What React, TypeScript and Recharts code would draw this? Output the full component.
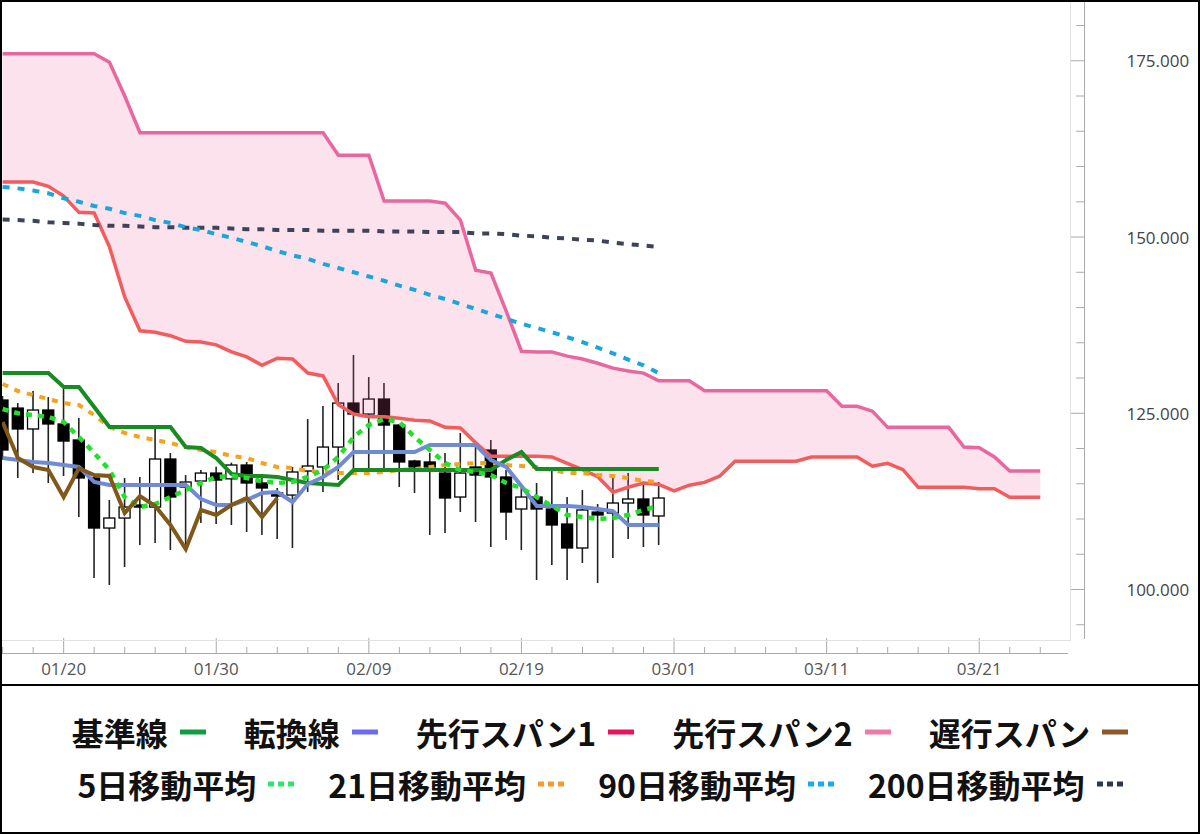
import React from 'react';
import { ComposedChart, Bar, Line, Area, XAxis, YAxis } from 'recharts';

// ---- categories (one per day) ----
const dates = [
  '01/16','01/17','01/18','01/19','01/20','01/21','01/22','01/23','01/24','01/25','01/26','01/27','01/28','01/29','01/30','01/31',
  '02/01','02/02','02/03','02/04','02/05','02/06','02/07','02/08','02/09','02/10','02/11','02/12','02/13','02/14','02/15','02/16',
  '02/17','02/18','02/19','02/20','02/21','02/22','02/23','02/24','02/25','02/26','02/27','02/28',
  '03/01','03/02','03/03','03/04','03/05','03/06','03/07','03/08','03/09','03/10','03/11','03/12','03/13','03/14','03/15','03/16',
  '03/17','03/18','03/19','03/20','03/21','03/22','03/23','03/24','03/25','03/26',
];
const xTickLabels = ['01/20', '01/30', '02/09', '02/19', '03/01', '03/11', '03/21'];
const yTicks = [95, 100, 105, 110, 115, 120, 125, 130, 135, 140, 145, 150, 155, 160, 165, 170, 175, 180];
const yLabels = [100, 125, 150, 175];

// ---- candles (01/16 .. 02/28) ----
const opens = [126.88,125.74,122.77,125.46,123.48,121.21,115.82,108.72,110.14,111.99,111.70,118.51,114.54,115.39,116.52,115.70,117.66,115.11,113.69,113.40,116.81,117.38,120.21,126.45,124.89,127.02,123.33,118.23,118.09,116.52,113.12,117.38,119.79,115.96,111.42,113.12,111.42,109.29,105.89,110.99,110.85,112.27,112.84,110.43];
const highs = [127.45,126.45,128.16,127.30,128.44,124.33,116.30,112.70,115.82,115.96,122.77,119.36,116.24,116.95,117.40,118.00,118.09,115.82,114.40,117.38,124.18,126.03,129.29,133.26,130.14,129.29,123.50,118.40,119.36,119.36,122.20,120.92,121.21,116.95,114.54,115.11,116.95,113.12,114.11,112.13,115.82,116.52,114.82,115.25];
const lows = [118.37,115.82,116.52,115.11,116.10,110.28,101.63,100.64,103.19,106.31,106.60,105.60,105.60,109.43,109.30,109.15,108.16,107.73,107.16,105.89,113.83,113.83,115.53,116.95,116.95,116.95,114.54,113.69,107.73,108.01,110.99,109.57,106.03,107.02,105.60,101.35,103.47,101.35,103.76,100.92,104.47,107.16,106.03,106.31];
const closes = [119.79,122.77,125.46,123.48,121.06,115.82,108.72,110.14,111.70,111.70,118.51,113.12,115.25,116.52,115.53,117.66,115.11,114.40,113.26,116.67,117.52,120.21,126.45,124.89,127.02,123.33,118.09,117.38,117.38,112.98,116.52,116.24,115.96,110.99,113.12,111.42,109.15,105.89,111.28,110.57,112.27,112.84,110.57,112.98];

// ---- ichimoku ----
const kijun = [130.71,130.71,130.71,130.71,128.72,128.72,125.9,123.05,123.05,123.05,123.05,123.05,120.21,120.07,118.65,116.4,116.1,116.1,115.96,115.53,115.11,114.96,114.82,116.95,116.95,116.95,116.95,116.95,116.95,116.95,116.95,116.95,116.95,118.37,119.5,117.09,117.09,117.09,117.09,117.09,117.09,117.09,117.09,117.09];
const tenkan = [118.65,118.37,118.09,117.94,117.66,117.38,115.25,114.82,114.82,114.82,114.82,114.82,114.82,112.84,111.99,111.99,112.70,113.69,113.83,112.41,114.96,115.96,117.38,119.5,119.5,119.5,119.5,119.5,120.5,120.5,120.5,120.5,118.37,117.38,114.68,111.84,111.84,111.84,111.70,111.42,111.13,109.15,109.15,109.15];
const senkou1 = [157.8,157.8,157.8,157.2,155.8,153.5,153.4,148.6,141.5,136.7,136.5,136.0,135.2,135.1,134.7,133.7,133.0,131.8,132.8,132.7,130.7,130.3,126.2,124.9,124.5,124.5,124.3,124.0,123.9,123.0,122.9,120.8,118.9,118.9,118.9,118.9,118.8,117.9,117.0,116.0,113.8,114.5,115.1,114.9,114.0,114.8,115.2,116.1,118.2,118.2,118.2,118.2,118.2,118.8,118.8,118.8,118.8,117.5,117.9,117.0,114.5,114.5,114.5,114.5,114.3,114.3,113.1,113.1,113.1];
const senkou2 = [176.0,176.0,176.0,176.0,176.0,176.0,176.0,174.8,170.0,164.8,164.8,164.8,164.8,164.8,164.8,164.8,164.8,164.8,164.8,164.8,164.8,164.8,161.6,161.6,161.6,155.1,155.1,155.1,155.1,154.8,152.4,145.3,144.9,139.5,133.8,133.7,133.7,133.1,132.7,132.1,131.4,131.0,130.7,129.6,129.6,129.6,128.2,128.2,128.2,128.2,128.2,128.2,128.2,128.2,128.2,126.0,126.0,125.3,123.0,123.0,123.0,123.0,123.0,120.2,120.1,118.8,116.8,116.8,116.8];
const chikou = [123.76,118.65,117.38,116.95,113.12,117.2,116.24,116.10,110.85,113.26,111.84,109.15,105.74,111.28,110.57,111.99,112.98,110.28,112.98];

// ---- moving averages ----
const ma5 = [125.6,125.0,124.75,124.47,123.76,121.63,119.36,116.95,113.12,111.70,112.13,113.12,114.11,115.11,115.96,116.10,115.82,115.39,115.11,115.25,115.96,116.95,118.79,121.63,123.33,124.18,123.76,121.63,119.79,117.94,116.95,116.67,116.24,115.11,114.40,113.12,111.84,110.57,110.28,110.0,110.14,110.57,111.28,111.84];
const ma21 = [129.15,128.16,127.59,127.02,126.45,126.17,124.75,123.05,122.20,121.63,121.21,120.78,120.21,119.79,119.50,118.94,118.65,117.94,117.38,117.23,116.81,116.67,116.52,116.52,116.52,116.67,116.95,117.09,117.38,117.66,117.80,117.94,117.94,117.66,117.52,117.38,116.95,116.52,116.52,116.24,116.10,115.82,115.39,115.25];
const ma90 = [157.1,156.9,156.6,156.2,155.5,155.0,154.4,154.0,153.4,153.0,152.4,152.0,151.4,151.0,150.4,149.9,149.3,148.7,148.0,147.4,146.9,146.2,145.6,145.0,144.4,143.8,143.1,142.5,141.8,141.2,140.5,139.8,139.1,138.4,137.7,137.1,136.5,135.8,135.1,134.3,133.5,132.6,131.8,130.7];
const ma200 = [152.5,152.4,152.3,152.1,152.0,151.9,151.7,151.6,151.6,151.5,151.4,151.4,151.3,151.3,151.3,151.2,151.1,151.1,151.0,151.0,151.0,150.9,150.9,150.9,150.9,150.8,150.8,150.8,150.7,150.7,150.7,150.5,150.5,150.4,150.2,150.1,149.9,149.8,149.6,149.5,149.2,149.0,148.8,148.6];

const legendRow1 = [
  { name: '基準線', color: '#109c40' },
  { name: '転換線', color: '#6b6df0' },
  { name: '先行スパン1', color: '#e8145a' },
  { name: '先行スパン2', color: '#f07aa6' },
  { name: '遅行スパン', color: '#8b5a2b' },
];
const legendRow2 = [
  { name: '5日移動平均', color: '#2ee66e' },
  { name: '21日移動平均', color: '#f59b2d' },
  { name: '90日移動平均', color: '#17aee6' },
  { name: '200日移動平均', color: '#2c3850' },
];

const at = (arr: number[], i: number) => (i < arr.length ? arr[i] : null);

const chartData = dates.map((date, i) => ({
  date,
  open: at(opens, i),
  high: at(highs, i),
  low: at(lows, i),
  close: at(closes, i),
  kijun: at(kijun, i),
  tenkan: at(tenkan, i),
  s1: at(senkou1, i),
  s2: at(senkou2, i),
  chikou: at(chikou, i),
  ma5: at(ma5, i),
  ma21: at(ma21, i),
  ma90: at(ma90, i),
  ma200: at(ma200, i),
}));

const firstLabelIndex = dates.indexOf(xTickLabels[0]);
const axisFont = '"Open Sans", "DejaVu Sans", sans-serif';

const CandleShape = (props: any) => {
  const { x, y, width, height, payload } = props;
  if (!payload || payload.open == null || !isFinite(y) || !isFinite(height)) return null;
  const { open, close, high, low } = payload;
  const top = Math.min(y, y + height);
  const h = Math.abs(height);
  const span = high - low || 1;
  const toY = (v: number) => top + ((high - v) / span) * h;
  const yO = toY(open);
  const yC = toY(close);
  const up = close >= open;
  const bt = Math.min(yO, yC);
  const bb = Math.max(yO, yC);
  const cx = x + width / 2;
  return (
    <g>
      <line x1={cx} x2={cx} y1={top} y2={top + h} stroke="#222" strokeWidth={1.6} />
      <rect x={x} y={bt} width={width} height={Math.max(bb - bt, 1.5)} fill={up ? '#ffffff' : '#000000'} stroke="#000" strokeWidth={1.3} />
    </g>
  );
};

const XTick = (props: any) => {
  const { x, y, index, payload } = props;
  const rel = index - firstLabelIndex;
  if (rel % 2 !== 0) return null;
  const major = xTickLabels.includes(payload.value);
  return (
    <g>
      <line x1={x} x2={x} y1={y + (major ? -2 : 7)} y2={y + 13} stroke="#aaa" strokeWidth={1} />
      {major && (
        <text x={x} y={y + 35} textAnchor="middle" fontFamily={axisFont} fontSize={17} fill="#555">
          {payload.value}
        </text>
      )}
    </g>
  );
};

const YTick = (props: any) => {
  const { x, y, payload } = props;
  const v = payload.value;
  const major = yLabels.includes(v);
  return (
    <g>
      <line x1={x + (major ? 0 : 6)} x2={x + 14} y1={y} y2={y} stroke="#aaa" strokeWidth={1} />
      {major && (
        <text x={x + 119} y={y} dominantBaseline="central" textAnchor="end" fontFamily={axisFont} fontSize={17} fill="#444">
          {v.toFixed(3)}
        </text>
      )}
    </g>
  );
};

const LegendRow = ({ items, dotted, top, gap }: any) => (
  <div style={{ position: 'absolute', left: 0, width: 1200, top, height: 40, display: 'flex', justifyContent: 'center', alignItems: 'center', gap }}>
    {items.map((it: any) => (
      <div key={it.name} style={{ display: 'flex', alignItems: 'center' }}>
        <span style={{ fontFamily: '"Noto Sans CJK JP", sans-serif', fontWeight: 700, fontSize: 32, color: '#111', lineHeight: '40px', whiteSpace: 'nowrap' }}>
          {it.name}
        </span>
        <svg width={26} height={10} style={{ marginLeft: 12 }}>
          <line x1={0} x2={26} y1={5} y2={5} stroke={it.color} strokeWidth={5} strokeDasharray={dotted ? '6 4' : undefined} />
        </svg>
      </div>
    ))}
  </div>
);

const lineCommon = { type: 'linear' as const, dot: false, activeDot: false, isAnimationActive: false, connectNulls: false };

export default function App() {
  return (
    <div style={{ position: 'absolute', left: 0, top: 0, width: 1200, height: 834, background: '#fff', overflow: 'hidden' }}>
      <div style={{ position: 'absolute', left: -5.17, top: 0 }}>
        <ComposedChart width={1205.17} height={685} data={chartData} margin={{ top: 0, right: 0, bottom: 0, left: 0 }}>
          <XAxis
            dataKey="date"
            scale="band"
            interval={0}
            height={45}
            axisLine={false}
            tickLine={false}
            tickSize={0}
            tickMargin={0}
            padding={{ left: 0, right: 7 }}
            tick={(p: any) => <XTick {...p} />}
          />
          <YAxis
            orientation="right"
            type="number"
            width={130}
            domain={[92.84, 183.62]}
            allowDataOverflow
            ticks={yTicks}
            interval={0}
            axisLine={false}
            tickLine={false}
            tickSize={0}
            tickMargin={0}
            tick={(p: any) => <YTick {...p} />}
          />
          <Bar
            dataKey={(d: any) => (d.low != null ? [d.low, d.high] : null)}
            barSize={11}
            shape={(p: any) => <CandleShape {...p} />}
            isAnimationActive={false}
          />
          <Area
            dataKey={(d: any) => (d.s1 != null && d.s2 != null ? [d.s1, d.s2] : null)}
            type="linear"
            stroke="none"
            fill="#ec5f97"
            fillOpacity={0.18}
            dot={false}
            activeDot={false}
            isAnimationActive={false}
            zIndex={350}
          />
          <Line {...lineCommon} dataKey="s1" stroke="#f25c5c" strokeWidth={3.5} />
          <Line {...lineCommon} dataKey="s2" stroke="#e8679f" strokeWidth={3.5} />
          <Line {...lineCommon} dataKey="ma200" stroke="#3d4459" strokeWidth={4} strokeDasharray="7 8" />
          <Line {...lineCommon} dataKey="ma90" stroke="#1aa6dc" strokeWidth={4} strokeDasharray="7 8" />
          <Line {...lineCommon} dataKey="ma21" stroke="#f5a31a" strokeWidth={4} strokeDasharray="6 7" />
          <Line {...lineCommon} dataKey="kijun" stroke="#188c22" strokeWidth={4} />
          <Line {...lineCommon} dataKey="tenkan" stroke="#6f8bd3" strokeWidth={4} />
          <Line {...lineCommon} dataKey="ma5" stroke="#22e02c" strokeWidth={4.5} strokeDasharray="6 6" />
          <Line {...lineCommon} dataKey="chikou" stroke="#80581a" strokeWidth={4} />
        </ComposedChart>
      </div>

      {/* plot frame and offset axis lines */}
      <div style={{ position: 'absolute', left: 0, top: 640, width: 1071, height: 1, background: '#e2e2e2' }} />
      <div style={{ position: 'absolute', left: 1070, top: 0, width: 1, height: 641, background: '#e2e2e2' }} />
      <div style={{ position: 'absolute', left: 0, top: 653, width: 1068, height: 1, background: '#aaa' }} />
      <div style={{ position: 'absolute', left: 1084, top: 0, width: 1, height: 639, background: '#aaa' }} />

      <LegendRow items={legendRow1} dotted={false} top={712} gap={38} />
      <LegendRow items={legendRow2} dotted top={764} gap={34} />

      <div style={{ position: 'absolute', left: 0, top: 684, width: 1200, height: 2, background: '#000' }} />
      <div style={{ position: 'absolute', left: 0, top: 0, width: 1200, height: 834, border: '2px solid #000', boxSizing: 'border-box', pointerEvents: 'none' }} />
    </div>
  );
}
